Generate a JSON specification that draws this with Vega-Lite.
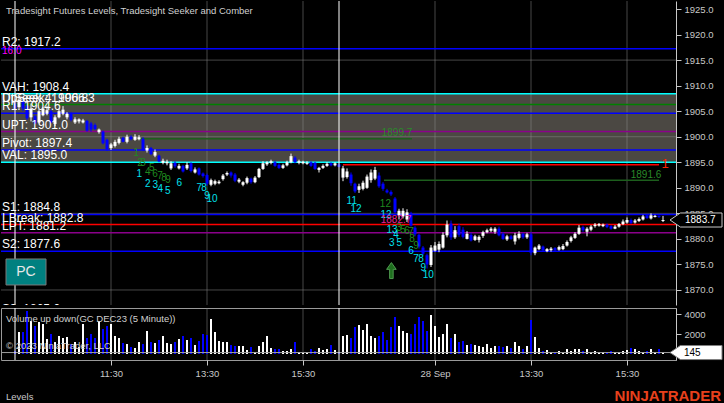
{
  "$schema": "https://vega.github.io/schema/vega-lite/v6.json",
  "background": "#000000",
  "padding": 0,
  "spacing": 1,
  "config": {"font": "Liberation Sans", "view": {"stroke": null}, "axis": {"labelFont": "Liberation Sans"}, "scale": {"continuousPadding": 0}},
  "datasets": {
    "bars": [
      {"k":3,"o":1906.5,"h":1907,"l":1905,"c":1905.5,"v":300},
      {"k":4,"o":1905.8,"h":1908,"l":1905.5,"c":1907.2,"v":2200},
      {"k":5,"o":1907,"h":1907.3,"l":1905,"c":1905.5,"v":2200},
      {"k":6,"o":1906,"h":1906.3,"l":1903.3,"c":1903.6,"v":4300},
      {"k":7,"o":1903.8,"h":1906.5,"l":1903,"c":1905.5,"v":3300},
      {"k":8,"o":1904,"h":1904.3,"l":1902.4,"c":1902.6,"v":2800},
      {"k":9,"o":1902.8,"h":1905.4,"l":1902.6,"c":1905,"v":3200},
      {"k":10,"o":1904.2,"h":1905.8,"l":1904,"c":1905.5,"v":3000},
      {"k":11,"o":1904.5,"h":1906,"l":1904.2,"c":1905.2,"v":1500},
      {"k":12,"o":1905,"h":1905.3,"l":1902.6,"c":1902.8,"v":2000},
      {"k":13,"o":1902.5,"h":1904.2,"l":1902.1,"c":1903.8,"v":1200},
      {"k":14,"o":1903.8,"h":1905.5,"l":1903.6,"c":1905,"v":1800},
      {"k":15,"o":1904.5,"h":1906,"l":1904.2,"c":1905.3,"v":1600},
      {"k":16,"o":1903.8,"h":1904.8,"l":1903.4,"c":1904.5,"v":1700},
      {"k":17,"o":1904.5,"h":1904.8,"l":1903,"c":1903.3,"v":1000},
      {"k":18,"o":1902.8,"h":1903.8,"l":1902.5,"c":1903.4,"v":1200},
      {"k":19,"o":1903,"h":1903.6,"l":1902.6,"c":1903.4,"v":700},
      {"k":20,"o":1902.8,"h":1903.5,"l":1902.6,"c":1903.2,"v":3000},
      {"k":21,"o":1903.1,"h":1903.3,"l":1901,"c":1901.2,"v":1600},
      {"k":22,"o":1902.6,"h":1902.9,"l":1901,"c":1901.4,"v":2000},
      {"k":23,"o":1902.3,"h":1902.6,"l":1901.3,"c":1901.5,"v":1600},
      {"k":24,"o":1900.9,"h":1901.6,"l":1900.6,"c":1901.4,"v":3300},
      {"k":25,"o":1901,"h":1901.2,"l":1898.5,"c":1898.7,"v":2500},
      {"k":26,"o":1899.4,"h":1899.6,"l":1897.2,"c":1897.6,"v":2800},
      {"k":27,"o":1897.8,"h":1898.8,"l":1897.4,"c":1898.5,"v":3000},
      {"k":28,"o":1898.2,"h":1899.4,"l":1897.9,"c":1899,"v":1800},
      {"k":29,"o":1898.8,"h":1900,"l":1898.5,"c":1899.6,"v":1600},
      {"k":30,"o":1899.8,"h":1900,"l":1898.9,"c":1899,"v":1100},
      {"k":31,"o":1899,"h":1900.4,"l":1898.7,"c":1900,"v":1000},
      {"k":32,"o":1900,"h":1900.3,"l":1899.3,"c":1899.5,"v":700},
      {"k":33,"o":1899.4,"h":1900.5,"l":1899.2,"c":1900,"v":600},
      {"k":34,"o":1899.5,"h":1900.3,"l":1899.3,"c":1899.9,"v":1200},
      {"k":35,"o":1899.6,"h":1899.9,"l":1897.2,"c":1897.4,"v":1000},
      {"k":36,"o":1897.3,"h":1898.3,"l":1896.9,"c":1897.8,"v":2300},
      {"k":37,"o":1897.8,"h":1898,"l":1896.4,"c":1896.6,"v":1200},
      {"k":38,"o":1896.3,"h":1897.5,"l":1896,"c":1897,"v":1100},
      {"k":39,"o":1896.3,"h":1896.5,"l":1895,"c":1895.2,"v":1400},
      {"k":40,"o":1894.9,"h":1895.7,"l":1894.6,"c":1895.3,"v":1800},
      {"k":41,"o":1894.8,"h":1895.5,"l":1894.4,"c":1895.1,"v":1100},
      {"k":42,"o":1893.8,"h":1895.2,"l":1893.5,"c":1894.8,"v":1000},
      {"k":43,"o":1894.9,"h":1895.2,"l":1893.9,"c":1894.2,"v":1200},
      {"k":44,"o":1893.8,"h":1894.7,"l":1893.6,"c":1894.3,"v":1500},
      {"k":45,"o":1894.3,"h":1894.5,"l":1893,"c":1893.2,"v":1800},
      {"k":46,"o":1893.8,"h":1895,"l":1893.5,"c":1894.5,"v":1400},
      {"k":47,"o":1894.8,"h":1895,"l":1893,"c":1893.3,"v":1600},
      {"k":48,"o":1893,"h":1894,"l":1892.8,"c":1893.6,"v":900},
      {"k":49,"o":1893.8,"h":1894,"l":1892.4,"c":1892.6,"v":1300},
      {"k":50,"o":1892.8,"h":1893,"l":1892,"c":1892.3,"v":2000},
      {"k":51,"o":1892.5,"h":1892.8,"l":1890.4,"c":1890.8,"v":1900},
      {"k":52,"o":1890.6,"h":1891.8,"l":1890.3,"c":1891.5,"v":3500},
      {"k":53,"o":1890.8,"h":1891.6,"l":1890.5,"c":1891.3,"v":2200},
      {"k":54,"o":1890.9,"h":1891.5,"l":1890.7,"c":1891.2,"v":1300},
      {"k":55,"o":1891.7,"h":1892.7,"l":1891.4,"c":1892.4,"v":1200},
      {"k":56,"o":1892.6,"h":1893.2,"l":1892.3,"c":1892.9,"v":1200},
      {"k":57,"o":1893,"h":1893.2,"l":1892,"c":1892.4,"v":900},
      {"k":58,"o":1892.6,"h":1892.9,"l":1891.1,"c":1891.4,"v":800},
      {"k":59,"o":1891.2,"h":1891.9,"l":1890.9,"c":1891.6,"v":800},
      {"k":60,"o":1890.6,"h":1891.3,"l":1890.3,"c":1891.1,"v":800},
      {"k":61,"o":1891,"h":1892.2,"l":1890.7,"c":1891.9,"v":400},
      {"k":62,"o":1891.8,"h":1892,"l":1890.8,"c":1891.1,"v":700},
      {"k":63,"o":1891.1,"h":1892.3,"l":1890.9,"c":1892,"v":200},
      {"k":64,"o":1892.1,"h":1893.9,"l":1891.9,"c":1893.7,"v":800},
      {"k":65,"o":1893.7,"h":1895.2,"l":1893.5,"c":1894.8,"v":1200},
      {"k":66,"o":1894.6,"h":1895.2,"l":1894.3,"c":1895,"v":1800},
      {"k":67,"o":1894.9,"h":1895.5,"l":1894.6,"c":1895.2,"v":600},
      {"k":68,"o":1895,"h":1895.3,"l":1894.1,"c":1894.3,"v":500},
      {"k":69,"o":1894.5,"h":1894.8,"l":1893.7,"c":1893.9,"v":500},
      {"k":70,"o":1893.9,"h":1894.7,"l":1893.7,"c":1894.4,"v":300},
      {"k":71,"o":1894.4,"h":1895.3,"l":1894.2,"c":1895,"v":300},
      {"k":72,"o":1895,"h":1896.7,"l":1894.8,"c":1896.2,"v":500},
      {"k":73,"o":1895.9,"h":1896.2,"l":1894.8,"c":1895,"v":1200},
      {"k":74,"o":1894.9,"h":1895.5,"l":1894.6,"c":1895.2,"v":200},
      {"k":75,"o":1894.8,"h":1895.3,"l":1894.6,"c":1895.1,"v":100},
      {"k":76,"o":1894.7,"h":1895.2,"l":1894.5,"c":1894.9,"v":100},
      {"k":77,"o":1895,"h":1895.2,"l":1894.1,"c":1894.3,"v":500},
      {"k":78,"o":1894.9,"h":1895.1,"l":1893.5,"c":1893.7,"v":300},
      {"k":79,"o":1893.5,"h":1894.1,"l":1893,"c":1893.9,"v":600},
      {"k":80,"o":1893.9,"h":1894.6,"l":1893.7,"c":1894.3,"v":400},
      {"k":81,"o":1894.3,"h":1895,"l":1894.1,"c":1894.7,"v":500},
      {"k":82,"o":1894.8,"h":1895,"l":1894.2,"c":1894.4,"v":900},
      {"k":83,"o":1894.4,"h":1895,"l":1894.2,"c":1894.8,"v":400},
      {"k":84,"o":1894.6,"h":1894.8,"l":1894,"c":1894.1,"v":100},
      {"k":85,"o":1892,"h":1894.3,"l":1891.3,"c":1893.8,"v":1800},
      {"k":86,"o":1892.1,"h":1893.8,"l":1891.8,"c":1893.2,"v":1900},
      {"k":87,"o":1892.6,"h":1893,"l":1890.4,"c":1890.9,"v":1600},
      {"k":88,"o":1890.8,"h":1891,"l":1889,"c":1889.3,"v":2700},
      {"k":89,"o":1889.6,"h":1890.8,"l":1889,"c":1890.3,"v":2900},
      {"k":90,"o":1889.8,"h":1891.4,"l":1889.5,"c":1891,"v":2400},
      {"k":91,"o":1890,"h":1892.6,"l":1889.8,"c":1892.2,"v":3000},
      {"k":92,"o":1891.5,"h":1893.6,"l":1891,"c":1893,"v":1800},
      {"k":93,"o":1891.8,"h":1894.1,"l":1891.5,"c":1893.5,"v":1600},
      {"k":94,"o":1892.4,"h":1893,"l":1890,"c":1890.3,"v":1800},
      {"k":95,"o":1890.8,"h":1891.1,"l":1889.4,"c":1889.8,"v":2200},
      {"k":96,"o":1889.5,"h":1889.8,"l":1888.9,"c":1889.1,"v":1400},
      {"k":97,"o":1889.2,"h":1889.5,"l":1888.4,"c":1888.7,"v":2700},
      {"k":98,"o":1887.9,"h":1888.2,"l":1885,"c":1885.2,"v":3700},
      {"k":99,"o":1884.6,"h":1885.9,"l":1883.8,"c":1885.5,"v":2800},
      {"k":100,"o":1884.4,"h":1886,"l":1884,"c":1885.5,"v":2300},
      {"k":101,"o":1883.8,"h":1885.8,"l":1883.3,"c":1885.2,"v":2100},
      {"k":102,"o":1885,"h":1885.3,"l":1882.4,"c":1882.6,"v":2000},
      {"k":103,"o":1882.2,"h":1882.5,"l":1880.5,"c":1880.9,"v":3000},
      {"k":104,"o":1880.8,"h":1881,"l":1878.1,"c":1878.5,"v":3700},
      {"k":105,"o":1878.3,"h":1878.6,"l":1876.8,"c":1877.1,"v":3300},
      {"k":106,"o":1876.8,"h":1877.1,"l":1874.2,"c":1875,"v":2300},
      {"k":107,"o":1874.9,"h":1878.8,"l":1874.5,"c":1878.3,"v":3900},
      {"k":108,"o":1877.7,"h":1879.4,"l":1877.5,"c":1878.7,"v":2800},
      {"k":109,"o":1877.9,"h":1879.5,"l":1877.4,"c":1879,"v":1700},
      {"k":110,"o":1878.3,"h":1881.3,"l":1878.1,"c":1880.8,"v":2000},
      {"k":111,"o":1880.7,"h":1883.6,"l":1880.3,"c":1882.8,"v":3000},
      {"k":112,"o":1883,"h":1883.6,"l":1879.8,"c":1880.3,"v":1600},
      {"k":113,"o":1880.3,"h":1882.5,"l":1880,"c":1881.7,"v":2000},
      {"k":114,"o":1882.5,"h":1883,"l":1880.4,"c":1880.8,"v":1200},
      {"k":115,"o":1881.8,"h":1882.3,"l":1880.1,"c":1880.4,"v":1300},
      {"k":116,"o":1880,"h":1881.5,"l":1879.9,"c":1881,"v":900},
      {"k":117,"o":1880.8,"h":1881.2,"l":1879.5,"c":1879.7,"v":1000},
      {"k":118,"o":1879.8,"h":1880.8,"l":1879.6,"c":1880.5,"v":900},
      {"k":119,"o":1879.8,"h":1880.7,"l":1879.3,"c":1880.4,"v":800},
      {"k":120,"o":1880.6,"h":1881.6,"l":1880.2,"c":1881.3,"v":700},
      {"k":121,"o":1881.3,"h":1882,"l":1881.1,"c":1881.7,"v":1000},
      {"k":122,"o":1881.6,"h":1882.3,"l":1881.3,"c":1882,"v":600},
      {"k":123,"o":1881.4,"h":1882.3,"l":1881,"c":1882,"v":800},
      {"k":124,"o":1882,"h":1882.4,"l":1880.5,"c":1880.7,"v":800},
      {"k":125,"o":1881,"h":1881.3,"l":1879.8,"c":1880,"v":700},
      {"k":126,"o":1879.9,"h":1880.8,"l":1879.6,"c":1880.5,"v":800},
      {"k":127,"o":1880.5,"h":1880.8,"l":1879.8,"c":1880,"v":600},
      {"k":128,"o":1879.5,"h":1881.2,"l":1878.9,"c":1880.7,"v":1200},
      {"k":129,"o":1880.2,"h":1881.5,"l":1879.9,"c":1881,"v":800},
      {"k":130,"o":1881,"h":1881.2,"l":1880,"c":1880.3,"v":500},
      {"k":131,"o":1880.3,"h":1881.2,"l":1880,"c":1880.9,"v":800},
      {"k":132,"o":1880.9,"h":1881.3,"l":1876.8,"c":1877.3,"v":3400},
      {"k":133,"o":1877.2,"h":1878.5,"l":1876.8,"c":1878.3,"v":1700},
      {"k":134,"o":1878,"h":1879,"l":1877.8,"c":1878.7,"v":600},
      {"k":135,"o":1878.5,"h":1878.7,"l":1877.5,"c":1877.8,"v":300},
      {"k":136,"o":1877.6,"h":1878.2,"l":1877.4,"c":1878,"v":400},
      {"k":137,"o":1877.8,"h":1878.4,"l":1877.5,"c":1878.1,"v":200},
      {"k":138,"o":1878.2,"h":1878.4,"l":1877.6,"c":1877.8,"v":100},
      {"k":139,"o":1877.9,"h":1878.7,"l":1877.7,"c":1878.4,"v":300},
      {"k":140,"o":1878,"h":1879,"l":1877.8,"c":1878.6,"v":100},
      {"k":141,"o":1878.7,"h":1879.7,"l":1878.5,"c":1879.4,"v":500},
      {"k":142,"o":1879.6,"h":1880.6,"l":1879.3,"c":1880.3,"v":300},
      {"k":143,"o":1880.2,"h":1881.3,"l":1880,"c":1881,"v":500},
      {"k":144,"o":1881,"h":1882.7,"l":1880.8,"c":1882.2,"v":500},
      {"k":145,"o":1882.3,"h":1882.6,"l":1881.4,"c":1881.7,"v":300},
      {"k":146,"o":1881.4,"h":1882.3,"l":1880.5,"c":1882,"v":500},
      {"k":147,"o":1881.8,"h":1882.7,"l":1881.5,"c":1882.4,"v":200},
      {"k":148,"o":1882.5,"h":1883.1,"l":1882.2,"c":1882.8,"v":300},
      {"k":149,"o":1882.6,"h":1883.1,"l":1882.4,"c":1882.9,"v":200},
      {"k":150,"o":1882.5,"h":1883,"l":1882.3,"c":1882.8,"v":200},
      {"k":151,"o":1882.8,"h":1883,"l":1882.1,"c":1882.3,"v":200},
      {"k":152,"o":1882.5,"h":1882.7,"l":1881.8,"c":1882,"v":300},
      {"k":153,"o":1882,"h":1882.7,"l":1881.9,"c":1882.4,"v":200},
      {"k":154,"o":1882.4,"h":1883.1,"l":1882.2,"c":1882.9,"v":200},
      {"k":155,"o":1882.9,"h":1883.8,"l":1882.7,"c":1883.4,"v":300},
      {"k":156,"o":1883.2,"h":1884.2,"l":1883,"c":1883.7,"v":400},
      {"k":157,"o":1883.7,"h":1884,"l":1882.9,"c":1883.1,"v":600},
      {"k":158,"o":1883.2,"h":1883.9,"l":1883,"c":1883.6,"v":500},
      {"k":159,"o":1883.5,"h":1884.2,"l":1883.3,"c":1883.9,"v":300},
      {"k":160,"o":1883.8,"h":1884.7,"l":1883.6,"c":1884.4,"v":200},
      {"k":161,"o":1884.6,"h":1884.8,"l":1883.9,"c":1884.1,"v":300},
      {"k":162,"o":1884,"h":1885,"l":1883.8,"c":1884.6,"v":500},
      {"k":163,"o":1884.3,"h":1884.7,"l":1884.2,"c":1884.5,"v":200},
      {"k":164,"o":1884.5,"h":1884.6,"l":1884.1,"c":1884.3,"v":500},
      {"k":165,"o":1883.5,"h":1884.5,"l":1883.3,"c":1883.7,"v":145}
    ],
    "shade": [{"a":-0.5,"b":168.25,"p1":1908.4,"p2":1895.0}],
    "gridx": [{"k":27},{"k":51},{"k":75},{"k":108},{"k":132},{"k":156}],
    "gridy": [{"p":1915},{"p":1900},{"p":1885},{"p":1870}],
    "session": [{"k":3},{"k":84}],
    "levels": [
      {"p":1917.2,"kind":"res"},
      {"p":1908.4,"kind":"va"},
      {"p":1906.3,"kind":"seek"},
      {"p":1904.6,"kind":"res"},
      {"p":1901.0,"kind":"pt"},
      {"p":1897.4,"kind":"res"},
      {"p":1895.0,"kind":"va"},
      {"p":1884.8,"kind":"res"},
      {"p":1882.8,"kind":"brk"},
      {"p":1881.2,"kind":"pt"},
      {"p":1877.6,"kind":"res"}
    ],
    "segs": [
      {"a":33.75,"b":102.25,"p":1899.6,"kind":"seekp"},
      {"a":85,"b":164,"p":1894.5,"kind":"brk"},
      {"a":95.25,"b":164,"p":1891.5,"kind":"seekp"}
    ],
    "labels": [
      {"p":1917.2,"t":"R2: 1917.2"},
      {"p":1908.4,"t":"VAH: 1908.4"},
      {"p":1906.3,"t":"DtSeek 4: 1906.3"},
      {"p":1906.3,"t":"UpSeek: 1906.8"},
      {"p":1904.6,"t":"R1: 1904.6"},
      {"p":1901.0,"t":"UPT: 1901.0"},
      {"p":1897.4,"t":"Pivot: 1897.4"},
      {"p":1895.0,"t":"VAL: 1895.0"},
      {"p":1884.8,"t":"S1: 1884.8"},
      {"p":1882.8,"t":"LBreak: 1882.8"},
      {"p":1881.2,"t":"LPT: 1881.2"},
      {"p":1877.6,"t":"S2: 1877.6"}
    ],
    "hidden": [{"p":1865.0,"t":"S3: 1865.0"}],
    "nums": [
      {"x":33.25,"p":1896.76,"t":"1","kind":"gr"},
      {"x":34.25,"p":1894.92,"t":"2","kind":"gr"},
      {"x":35,"p":1894.92,"t":"3","kind":"gr"},
      {"x":36.2,"p":1893.15,"t":"4","kind":"gr"},
      {"x":37.2,"p":1893.94,"t":"5","kind":"gr"},
      {"x":38,"p":1892.76,"t":"6","kind":"gr"},
      {"x":39.25,"p":1892.31,"t":"7","kind":"gr"},
      {"x":40.25,"p":1891.98,"t":"8","kind":"gr"},
      {"x":41.25,"p":1891.53,"t":"9","kind":"gr"},
      {"x":34.1,"p":1892.64,"t":"1","kind":"cy"},
      {"x":36.2,"p":1890.8,"t":"2","kind":"cy"},
      {"x":38.1,"p":1890.49,"t":"3","kind":"cy"},
      {"x":39.3,"p":1889.83,"t":"4","kind":"cy"},
      {"x":41.2,"p":1889.32,"t":"5","kind":"cy"},
      {"x":44.1,"p":1890.88,"t":"6","kind":"cy"},
      {"x":49.1,"p":1890.02,"t":"7","kind":"cy"},
      {"x":50.25,"p":1889.9,"t":"8","kind":"cy"},
      {"x":51,"p":1888.4,"t":"9","kind":"cy"},
      {"x":52.25,"p":1887.87,"t":"10","kind":"cy"},
      {"x":87.2,"p":1887.42,"t":"11","kind":"cy"},
      {"x":88.25,"p":1885.8,"t":"12","kind":"cy"},
      {"x":95.75,"p":1884.62,"t":"12","kind":"cy"},
      {"x":97.25,"p":1881.68,"t":"13","kind":"cy"},
      {"x":98.25,"p":1880.71,"t":"4","kind":"cy"},
      {"x":97.2,"p":1879.26,"t":"3","kind":"cy"},
      {"x":99.1,"p":1879.26,"t":"5","kind":"cy"},
      {"x":102,"p":1877.63,"t":"6","kind":"cy"},
      {"x":103.25,"p":1876.13,"t":"7","kind":"cy"},
      {"x":104.5,"p":1876.13,"t":"8","kind":"cy"},
      {"x":105.1,"p":1874.36,"t":"9","kind":"cy"},
      {"x":106.3,"p":1872.88,"t":"10","kind":"cy"},
      {"x":95.6,"p":1886.77,"t":"12","kind":"gr"},
      {"x":99,"p":1882.2,"t":"3","kind":"gr"},
      {"x":100,"p":1881.8,"t":"5","kind":"gr"},
      {"x":101,"p":1881.6,"t":"6","kind":"gr"},
      {"x":102,"p":1881.35,"t":"7","kind":"gr"},
      {"x":102.25,"p":1880.04,"t":"8","kind":"gr"},
      {"x":103.25,"p":1878.6,"t":"9","kind":"gr"},
      {"x":98.25,"p":1883.64,"t":"1882.7","kind":"mg"},
      {"x":98.5,"p":1900.73,"t":"1899.7","kind":"gt"},
      {"x":160.75,"p":1892.5,"t":"1891.6","kind":"gt"}
    ],
    "redone": [{"x":165.5,"p":1894.66,"t":"1"}],
    "magenta": [{"x":-0.25,"p":1916.78,"t":"16.0"}],
    "title": [{"x":0.75,"p":1924.6,"t":"Tradesight Futures Levels, Tradesight Seeker and Comber"}],
    "pc": [{"a":0.75,"b":10.75,"p1":1876.07,"p2":1870.98,"x":5.75,"p":1873.52,"t":"PC"}],
    "arrow": [{"x":97.1,"p":1873.8}],
    "ptag": [{"x":173.25,"xt":170.5,"p":1883.7,"t":"1883.7"}],
    "vtag": [{"x":173.25,"xt":170.25,"v":145,"t":"145"}],
    "vnotes": [
      {"x":0.75,"v":3500,"t":"Volume up down(GC DEC23 (5 Minute))"},
      {"x":0.75,"v":770,"t":"© 2023 NinjaTrader, LLC"}
    ],
    "footer": [{"x":0.75,"v":-4300,"t":"Levels"}],
    "brand": [{"x":179.5,"v":-4200,"t":"NINJATRADER"}]
  },
  "vconcat": [
    {
      "width": 675,
      "height": 304,
      "layer": [
        {
          "data": {"name": "shade"},
          "mark": {"type": "rect", "color": "#4b4843"},
          "encoding": {
            "x": {"field": "a", "type": "quantitative", "scale": {"domain": [-0.5, 168.25], "nice": false, "zero": false, "padding": 0}, "axis": null},
            "x2": {"field": "b"},
            "y": {"field": "p1", "type": "quantitative", "scale": {"domain": [1867.06, 1926.57], "nice": false, "zero": false, "padding": 0},
                  "axis": {"orient": "right", "title": null, "tickCount": 12, "format": ".1f", "grid": false, "labelOverlap": false,
                           "labelColor": "#c8c8c8", "labelFontSize": 9.5, "tickColor": "#c8c8c8", "tickSize": 5, "domainColor": "#c8c8c8", "labelPadding": 3}},
            "y2": {"field": "p2"}
          }
        },
        {
          "data": {"name": "gridx"},
          "mark": {"type": "rule", "color": "#8c8c8c", "opacity": 0.5, "strokeWidth": 1},
          "encoding": {"x": {"field": "k", "type": "quantitative"}}
        },
        {
          "data": {"name": "gridy"},
          "mark": {"type": "rule", "color": "#8c8c8c", "opacity": 0.5, "strokeWidth": 1},
          "encoding": {"y": {"field": "p", "type": "quantitative"}}
        },
        {
          "data": {"name": "levels"},
          "mark": {"type": "rule", "strokeWidth": 1.5},
          "encoding": {
            "y": {"field": "p", "type": "quantitative"},
            "color": {"field": "kind", "type": "nominal", "legend": null,
                      "scale": {"domain": ["res","va","pt","brk","seek","seekp","cy","gr","mg","gt"], "range": ["#0000ff","#00ffff","#8b008b","#ff0000","#008000","#1d5e1d","#00e1ee","#1f8a1f","#e6209a","#2a8a2a"]}}
          }
        },
        {
          "data": {"name": "segs"},
          "mark": {"type": "rule", "strokeWidth": 1.5},
          "encoding": {
            "x": {"field": "a", "type": "quantitative"},
            "x2": {"field": "b"},
            "y": {"field": "p", "type": "quantitative"},
            "color": {"field": "kind", "type": "nominal", "legend": null,
                      "scale": {"domain": ["res","va","pt","brk","seek","seekp","cy","gr","mg","gt"], "range": ["#0000ff","#00ffff","#8b008b","#ff0000","#008000","#1d5e1d","#00e1ee","#1f8a1f","#e6209a","#2a8a2a"]}}
          }
        },
        {
          "data": {"name": "bars"},
          "mark": {"type": "rule", "strokeWidth": 1},
          "encoding": {
            "x": {"field": "k", "type": "quantitative"},
            "y": {"field": "l", "type": "quantitative"},
            "y2": {"field": "h"},
            "color": {"condition": {"test": "datum.c >= datum.o", "value": "#ffffff"}, "value": "#0000ff"}
          }
        },
        {
          "data": {"name": "bars"},
          "mark": {"type": "bar", "width": 3},
          "encoding": {
            "x": {"field": "k", "type": "quantitative", "scale": {"domain": [-0.5, 168.25], "nice": false, "zero": false, "padding": 0}},
            "y": {"field": "o", "type": "quantitative"},
            "y2": {"field": "c"},
            "color": {"condition": {"test": "datum.c >= datum.o", "value": "#ffffff"}, "value": "#0000ff"}
          }
        },
        {
          "data": {"name": "session"},
          "mark": {"type": "rule", "color": "#ffffff", "strokeWidth": 1},
          "encoding": {"x": {"field": "k", "type": "quantitative"}}
        },
        {
          "data": {"name": "labels"},
          "mark": {"type": "text", "align": "left", "baseline": "alphabetic", "dy": -3, "fontSize": 12, "color": "#ffffff"},
          "encoding": {
            "x": {"datum": -0.25, "type": "quantitative"},
            "y": {"field": "p", "type": "quantitative"},
            "text": {"field": "t"}
          }
        },
        {
          "data": {"name": "hidden"},
          "mark": {"type": "text", "align": "left", "baseline": "alphabetic", "dy": -3, "fontSize": 12, "color": "#ffffff", "clip": true},
          "encoding": {
            "x": {"datum": -0.25, "type": "quantitative"},
            "y": {"field": "p", "type": "quantitative"},
            "text": {"field": "t"}
          }
        },
        {
          "data": {"name": "nums"},
          "mark": {"type": "text", "align": "center", "baseline": "middle", "fontSize": 10},
          "encoding": {
            "x": {"field": "x", "type": "quantitative"},
            "y": {"field": "p", "type": "quantitative"},
            "text": {"field": "t"},
            "color": {"field": "kind", "type": "nominal", "legend": null,
                      "scale": {"domain": ["res","va","pt","brk","seek","seekp","cy","gr","mg","gt"], "range": ["#0000ff","#00ffff","#8b008b","#ff0000","#008000","#1d5e1d","#00e1ee","#1f8a1f","#e6209a","#2a8a2a"]}}
          }
        },
        {
          "data": {"name": "redone"},
          "mark": {"type": "text", "align": "center", "baseline": "middle", "fontSize": 13, "color": "#ff2000"},
          "encoding": {
            "x": {"field": "x", "type": "quantitative"},
            "y": {"field": "p", "type": "quantitative"},
            "text": {"field": "t"}
          }
        },
        {
          "data": {"name": "magenta"},
          "mark": {"type": "text", "align": "left", "baseline": "middle", "fontSize": 10, "color": "#ff00ff"},
          "encoding": {
            "x": {"field": "x", "type": "quantitative"},
            "y": {"field": "p", "type": "quantitative"},
            "text": {"field": "t"}
          }
        },
        {
          "data": {"name": "title"},
          "mark": {"type": "text", "align": "left", "baseline": "middle", "fontSize": 9.5, "color": "#d0d0d0"},
          "encoding": {
            "x": {"field": "x", "type": "quantitative"},
            "y": {"field": "p", "type": "quantitative"},
            "text": {"field": "t"}
          }
        },
        {
          "data": {"name": "pc"},
          "mark": {"type": "rect", "color": "#008080", "stroke": "#7a7a7a", "strokeWidth": 1},
          "encoding": {
            "x": {"field": "a", "type": "quantitative"},
            "x2": {"field": "b"},
            "y": {"field": "p1", "type": "quantitative"},
            "y2": {"field": "p2"}
          }
        },
        {
          "data": {"name": "pc"},
          "mark": {"type": "text", "align": "center", "baseline": "middle", "fontSize": 14, "color": "#e8e8e8"},
          "encoding": {
            "x": {"field": "x", "type": "quantitative"},
            "y": {"field": "p", "type": "quantitative"},
            "text": {"field": "t"}
          }
        },
        {
          "data": {"name": "arrow"},
          "mark": {"type": "point", "filled": true, "shape": "M0,-1L0.6,-0.15L0.22,-0.15L0.22,1L-0.22,1L-0.22,-0.15L-0.6,-0.15Z", "size": 256, "color": "#1e6e1e", "stroke": "#4f9a4f", "strokeWidth": 1, "opacity": 1},
          "encoding": {
            "x": {"field": "x", "type": "quantitative"},
            "y": {"field": "p", "type": "quantitative"}
          }
        },
        {
          "data": {"name": "ptag"},
          "mark": {"type": "point", "filled": true, "shape": "M-1,0L-0.6,-0.27L1,-0.27L1,0.27L-0.6,0.27Z", "size": 2704, "fill": "#000000", "stroke": "#c8c8c8", "strokeWidth": 1, "opacity": 1},
          "encoding": {
            "x": {"field": "x", "type": "quantitative"},
            "y": {"field": "p", "type": "quantitative"}
          }
        },
        {
          "data": {"name": "ptag"},
          "mark": {"type": "text", "align": "left", "baseline": "middle", "fontSize": 10, "color": "#ffffff"},
          "encoding": {
            "x": {"field": "xt", "type": "quantitative"},
            "y": {"field": "p", "type": "quantitative"},
            "text": {"field": "t"}
          }
        }
      ]
    },
    {
      "width": 675,
      "height": 52,
      "view": {"stroke": "#9a9a9a"},
      "layer": [
        {
          "data": {"name": "gridx"},
          "mark": {"type": "rule", "color": "#8c8c8c", "opacity": 0.5, "strokeWidth": 1},
          "encoding": {
            "x": {"field": "k", "type": "quantitative", "scale": {"domain": [-0.5, 168.25], "nice": false, "zero": false, "padding": 0},
                  "axis": {"title": null, "values": [27, 51, 75, 108, 132, 156], "grid": false, "domain": false, "labelOverlap": false, "labelFlush": false,
                           "labelExpr": "datum.value == 27 ? '11:30' : datum.value == 51 ? '13:30' : datum.value == 75 ? '15:30' : datum.value == 108 ? '28 Sep' : datum.value == 132 ? '13:30' : '15:30'",
                           "labelColor": "#c8c8c8", "labelFontSize": 9.5, "tickColor": "#c8c8c8", "tickSize": 5, "labelPadding": 3}}
          }
        },
        {
          "data": {"name": "bars"},
          "mark": {"type": "bar", "width": 2},
          "encoding": {
            "x": {"field": "k", "type": "quantitative", "scale": {"domain": [-0.5, 168.25], "nice": false, "zero": false, "padding": 0}},
            "y": {"field": "v", "type": "quantitative", "scale": {"domain": [-600, 4600], "nice": false, "zero": false, "padding": 0},
                  "axis": {"orient": "right", "title": null, "values": [2000, 4000], "format": "d", "grid": false, "labelOverlap": false,
                           "labelColor": "#c8c8c8", "labelFontSize": 9.5, "tickColor": "#c8c8c8", "tickSize": 5, "domainColor": "#c8c8c8", "labelPadding": 3}},
            "y2": {"datum": 0},
            "color": {"condition": {"test": "datum.c >= datum.o", "value": "#ffffff"}, "value": "#0000ff"}
          }
        },
        {
          "data": {"name": "vtag"},
          "mark": {"type": "rule", "color": "#a0a0a0", "strokeWidth": 1},
          "encoding": {"y": {"field": "v", "type": "quantitative"}}
        },
        {
          "data": {"name": "session"},
          "mark": {"type": "rule", "color": "#ffffff", "strokeWidth": 1},
          "encoding": {"x": {"field": "k", "type": "quantitative"}}
        },
        {
          "data": {"name": "vnotes"},
          "mark": {"type": "text", "align": "left", "baseline": "middle", "fontSize": 9.5, "color": "#d0d0d0"},
          "encoding": {
            "x": {"field": "x", "type": "quantitative"},
            "y": {"field": "v", "type": "quantitative"},
            "text": {"field": "t"}
          }
        },
        {
          "data": {"name": "vtag"},
          "mark": {"type": "point", "filled": true, "shape": "M-1,0L-0.6,-0.27L1,-0.27L1,0.27L-0.6,0.27Z", "size": 2704, "fill": "#ffffff", "stroke": "#808080", "strokeWidth": 1, "opacity": 1},
          "encoding": {
            "x": {"field": "x", "type": "quantitative"},
            "y": {"field": "v", "type": "quantitative"}
          }
        },
        {
          "data": {"name": "vtag"},
          "mark": {"type": "text", "align": "left", "baseline": "middle", "fontSize": 10, "color": "#000000"},
          "encoding": {
            "x": {"field": "xt", "type": "quantitative"},
            "y": {"field": "v", "type": "quantitative"},
            "text": {"field": "t"}
          }
        },
        {
          "data": {"name": "footer"},
          "mark": {"type": "text", "align": "left", "baseline": "middle", "fontSize": 9.5, "color": "#c8c8c8"},
          "encoding": {
            "x": {"field": "x", "type": "quantitative"},
            "y": {"field": "v", "type": "quantitative"},
            "text": {"field": "t"}
          }
        },
        {
          "data": {"name": "brand"},
          "mark": {"type": "text", "align": "right", "baseline": "middle", "fontSize": 15, "fontWeight": "bold", "color": "#e8401c"},
          "encoding": {
            "x": {"field": "x", "type": "quantitative"},
            "y": {"field": "v", "type": "quantitative"},
            "text": {"field": "t"}
          }
        }
      ]
    }
  ]
}
